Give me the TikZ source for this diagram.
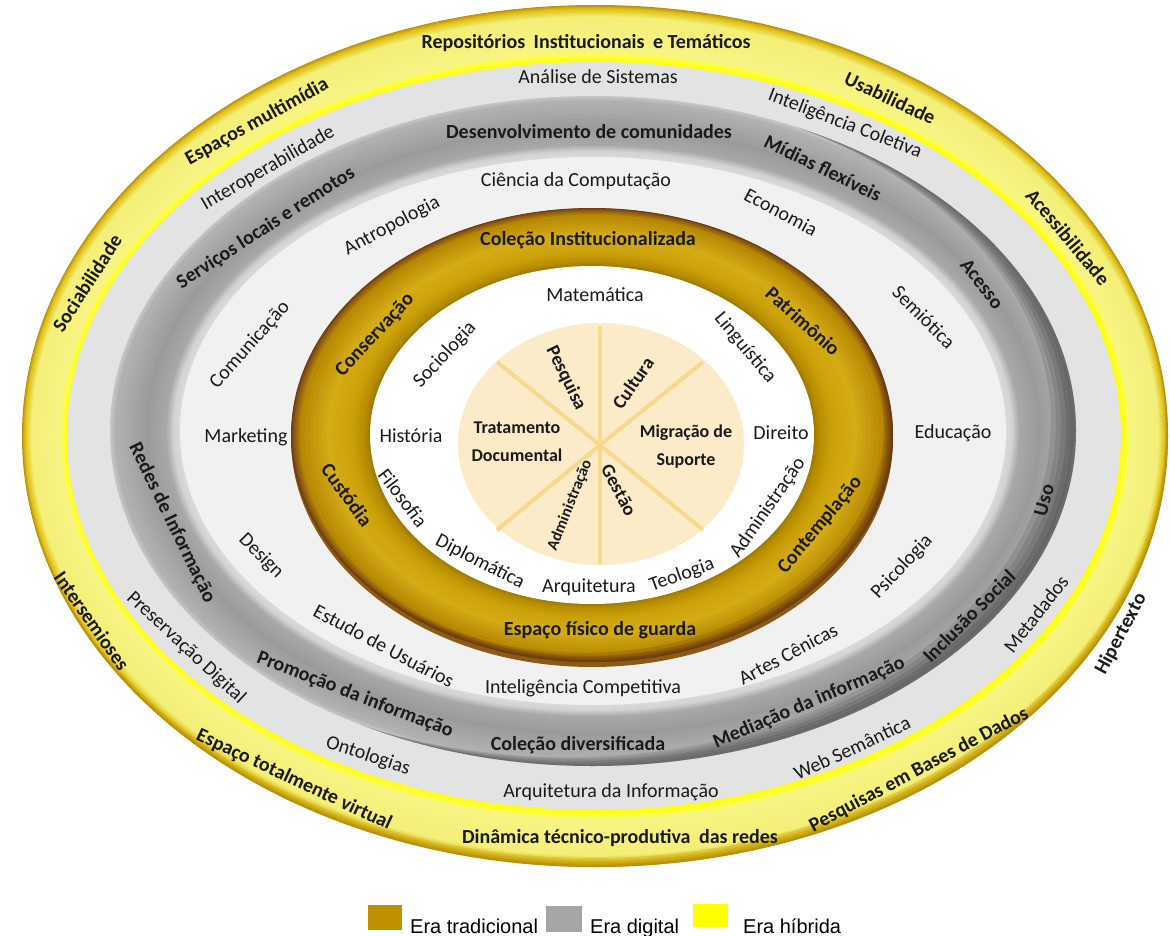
\documentclass[tikz,border=0pt]{standalone}
\usepackage{fontspec}
\setmainfont{Carlito}
\newfontfamily\legfont{Liberation Sans}
\definecolor{txt}{HTML}{1A1A1A}
\definecolor{yA}{HTML}{B8900A}
\definecolor{yB}{HTML}{E2C41C}
\definecolor{yC}{HTML}{F3EF78}
\definecolor{yD}{HTML}{F7F585}
\definecolor{yE}{HTML}{FFFF38}
\definecolor{yF}{HTML}{FFFF00}
\definecolor{lgband}{HTML}{E3E3E3}
\definecolor{gA}{HTML}{C6C6C6}
\definecolor{gB}{HTML}{B0B0B0}
\definecolor{gC}{HTML}{9A9A9A}
\definecolor{gD}{HTML}{AAAAAA}
\definecolor{gE}{HTML}{D2D2D2}
\definecolor{gF}{HTML}{DCDCDC}
\definecolor{lband}{HTML}{F1F1F1}
\definecolor{oA}{HTML}{6A3A0C}
\definecolor{oB}{HTML}{8C5A14}
\definecolor{oC}{HTML}{B88A04}
\definecolor{oD}{HTML}{D4AC16}
\definecolor{oE}{HTML}{CBA10A}
\definecolor{oF}{HTML}{B48A00}
\definecolor{oG}{HTML}{9C7800}
\definecolor{pale}{HTML}{FCEBC8}
\definecolor{spokec}{HTML}{F6D98C}
\definecolor{legGold}{HTML}{BF9000}
\definecolor{legGray}{HTML}{A6A6A6}
\newcommand\ringset[6]{\gdef\Cx{#1}\gdef\Cy{#2}\gdef\ORx{#3}\gdef\ORy{#4}\gdef\IRx{#5}\gdef\IRy{#6}}
\newcommand\rseg[4]{%
  \foreach \j in {0,...,6}{%
    \pgfmathsetmacro\ff{#1+(#2-#1)*\j/6}%
    \pgfmathtruncatemacro\pp{100*\j/6}%
    \pgfmathsetmacro\ax{\ORx-\ff*(\ORx-\IRx)}%
    \pgfmathsetmacro\ay{\ORy-\ff*(\ORy-\IRy)}%
    \colorlet{tmpc}{#4!\pp!#3}%
    \fill[tmpc] (\Cx,\Cy) ellipse [x radius=\ax, y radius=\ay];%
  }}
\begin{document}
\begin{tikzpicture}[x=1pt,y=-1pt,
  lb/.style={font=\bfseries\fontsize{20}{24}\selectfont, text=txt, inner sep=0pt},
  lr/.style={font=\fontsize{20}{24}\selectfont, text=txt, inner sep=0pt},
  lbm/.style={font=\bfseries\fontsize{19}{24}\selectfont, text=txt, inner sep=0pt},
  lbt/.style={font=\bfseries\fontsize{16}{20}\selectfont, text=txt, inner sep=0pt},
  lbs/.style={font=\bfseries\fontsize{18}{28}\selectfont, text=txt, inner sep=0pt, align=center},
  leg/.style={font=\legfont\fontsize{20}{24}\selectfont, text=black, anchor=base west, inner sep=0pt},
  spoke/.style={draw=spokec, line width=4pt}]
\useasboundingbox (0,0) rectangle (1170,936);
\fill[white] (0,0) rectangle (1170,936);

% ---------- yellow ring (era hibrida)
\ringset{595}{436}{573}{431}{527}{374}
\rseg{0}{0.07}{yA}{yB}
\rseg{0.07}{0.2}{yB}{yC}
\rseg{0.2}{0.82}{yC}{yD}
\rseg{0.82}{0.9}{yD}{yE}
\rseg{0.9}{1}{yE}{yF}
\begin{scope}
  \clip (595,436) ellipse [x radius=573, y radius=431];
  \foreach \d in {3,6,9}{
    \fill[yA, fill opacity=0.25, even odd rule] (0,0) rectangle (1170,936)
      (595-\d*0.3,436-\d) ellipse [x radius=573, y radius=431];
  }
\end{scope}

% ---------- light gray band
\fill[lgband] (594,436) ellipse [x radius=527, y radius=374];

% ---------- gray ring (era digital)
\ringset{593}{431}{483}{335}{413}{274}
\rseg{0}{0.08}{gA}{gB}
\rseg{0.08}{0.5}{gB}{gC}
\rseg{0.5}{0.8}{gC}{gD}
\rseg{0.8}{0.9}{gD}{gE}
\rseg{0.9}{1}{gE}{gF}
\begin{scope}
  \clip (593,431) ellipse [x radius=483, y radius=335];
  \foreach \d in {5,10,15,20,25}{
    \fill[black, fill opacity=0.11, even odd rule] (0,0) rectangle (1170,936)
      (593-\d,431-\d*0.35) ellipse [x radius=483, y radius=335];
  }
\end{scope}

% ---------- light band
\fill[lband] (593,431) ellipse [x radius=413, y radius=274];

% ---------- golden ring (era tradicional)
\fill[oB] (592,439) ellipse [x radius=301, y radius=228];
\ringset{592}{435}{301}{227}{222}{169}
\rseg{0}{0.04}{oA}{oB}
\rseg{0.04}{0.12}{oB}{oC}
\rseg{0.12}{0.45}{oC}{oD}
\rseg{0.45}{0.75}{oD}{oE}
\rseg{0.75}{0.93}{oE}{oF}
\rseg{0.93}{1}{oF}{oG}
\begin{scope}
  \clip (592,435) ellipse [x radius=301, y radius=227];
  \foreach \d in {3,6,9}{
    \fill[oA, fill opacity=0.2, even odd rule] (0,0) rectangle (1170,936)
      (592-\d,435-\d) ellipse [x radius=301, y radius=227];
  }
\end{scope}

% ---------- white interior
\fill[white] (592,435) ellipse [x radius=222, y radius=169];

% ---------- pale core with spokes
\fill[pale] (601,444) ellipse [x radius=143, y radius=121];
\coordinate (sc) at (600,445);
\coordinate (sN) at (600,326);
\coordinate (sS) at (600,564);
\coordinate (sNW) at (497,362);
\coordinate (sNE) at (703,362);
\coordinate (sSW) at (497,530);
\coordinate (sSE) at (703,530);
\foreach \e in {sN,sS,sNW,sNE,sSW,sSE}{ \draw[spoke] (sc) -- (\e); }

% ---------- yellow ring labels
\node[lb] (yRep) at (586,43) {Repositórios\hspace{4pt} Institucionais\hspace{4pt} e Temáticos};
\node[lb, rotate=29] (yEsp) at (257,122) {Espaços multimídia};
\node[lb, rotate=-25] (yUsa) at (890,98) {Usabilidade};
\node[lb, rotate=57] (ySoc) at (87,283) {Sociabilidade};
\node[lb, rotate=-50] (yAce) at (1068,237) {Acessibilidade};
\node[lb, rotate=-55] (yInt) at (92,621) {Intersemioses};
\node[lb, rotate=62] (yHip) at (1121,634) {Hipertexto};
\node[lb, rotate=-25] (yEtv) at (294,780) {Espaço totalmente virtual};
\node[lb] (yDin) at (620,838) {Dinâmica técnico-produtiva\hspace{4pt} das redes};
\node[lb, rotate=28] (yPbd) at (919,770) {Pesquisas em Bases de Dados};

% ---------- light gray band labels
\node[lr] (gAna) at (598,77) {Análise de Sistemas};
\node[lr, rotate=30] (gInt) at (268,168) {Interoperabilidade};
\node[lr, rotate=-21] (gIco) at (845,124) {Inteligência Coletiva};
\node[lr, rotate=-43] (gPre) at (186,648) {Preservação Digital};
\node[lr, rotate=-18] (gOnt) at (368,756) {Ontologias};
\node[lr] (gArq) at (611,792) {Arquitetura da Informação};
\node[lr, rotate=25] (gWeb) at (852,748) {Web Semântica};
\node[lr, rotate=52] (gMet) at (1036,614) {Metadados};

% ---------- gray ring labels
\node[lb] (rDes) at (589,132) {Desenvolvimento de comunidades};
\node[lb, rotate=33] (rSer) at (266,228) {Serviços locais e remotos};
\node[lb, rotate=-26] (rMid) at (823,168) {Mídias flexíveis};
\node[lb, rotate=-52] (rAce) at (982,284) {Acesso};
\node[lb, rotate=-64] (rRed) at (172,523) {Redes de Informação};
\node[lb, rotate=75] (rUso) at (1044,500) {Uso};
\node[lb, rotate=-21] (rPro) at (355,695) {Promoção da informação};
\node[lb] (rCol) at (578,745) {Coleção diversificada};
\node[lb, rotate=23] (rMed) at (809,703) {Mediação da informação};
\node[lb, rotate=45] (rInc) at (969,616) {Inclusão Social};

% ---------- light band labels
\node[lr] (cCie) at (576,181) {Ciência da Computação};
\node[lr, rotate=28] (cAnt) at (392,226) {Antropologia};
\node[lr, rotate=-28] (cEco) at (781,212) {Economia};
\node[lr, rotate=48] (cCom) at (250,345) {Comunicação};
\node[lr, rotate=-45] (cSem) at (924,317) {Semiótica};
\node[lr] (cMar) at (246,437) {Marketing};
\node[lr] (cEdu) at (953,433) {Educação};
\node[lr, rotate=-45] (cDes) at (261,556) {Design};
\node[lr, rotate=47] (cPsi) at (902,567) {Psicologia};
\node[lr, rotate=-28] (cEst) at (384,646) {Estudo de Usuários};
\node[lr] (cIco) at (583,688) {Inteligência Competitiva};
\node[lr, rotate=28] (cArt) at (788,654) {Artes Cênicas};

% ---------- golden ring labels
\node[lb] (oCol) at (588,240) {Coleção Institucionalizada};
\node[lb, rotate=47] (oCon) at (375,335) {Conservação};
\node[lb, rotate=-42] (oPat) at (803,321) {Patrimônio};
\node[lb, rotate=-54] (oCus) at (347,495) {Custódia};
\node[lb, rotate=50] (oCtp) at (820,525) {Contemplação};
\node[lb] (oEsp) at (600,630) {Espaço físico de guarda};

% ---------- white interior labels
\node[lr] (wMat) at (595,295) {Matemática};
\node[lr, rotate=47] (wSoc) at (445,355) {Sociologia};
\node[lr, rotate=-50] (wLin) at (745,348) {Linguística};
\node[lr] (wHis) at (411,436) {História};
\node[lr] (wDir) at (781,433) {Direito};
\node[lr, rotate=-53] (wFil) at (403,498) {Filosofia};
\node[lr, rotate=-27] (wDip) at (480,562) {Diplomática};
\node[lr] (wArq) at (589,587) {Arquitetura};
\node[lr, rotate=20] (wTeo) at (682,575) {Teologia};
\node[lr, rotate=55] (wAdm) at (768,508) {Administração};

% ---------- core labels
\node[lbs] (pTra) at (517,442) {Tratamento\\Documental};
\node[lbs] (pMig) at (686,447) {Migração de\\Suporte};
\node[lbm, rotate=-64] (pPes) at (566,378) {Pesquisa};
\node[lbm, rotate=55] (pCul) at (633,383) {Cultura};
\node[lbm, rotate=-62] (pGes) at (619,490) {Gestão};
\node[lbt, rotate=68] (pAdm) at (570,505) {Administração};

% ---------- legend
\fill[legGold] (368,905) rectangle (402,930);
\node[leg] (lTrad) at (410,933) {Era tradicional};
\fill[legGray] (546,906) rectangle (582,932);
\node[leg] (lDig) at (590,933) {Era digital};
\fill[yF] (693,904) rectangle (728,927);
\node[leg] (lHib) at (743,933) {Era híbrida};
\end{tikzpicture}
\end{document}
